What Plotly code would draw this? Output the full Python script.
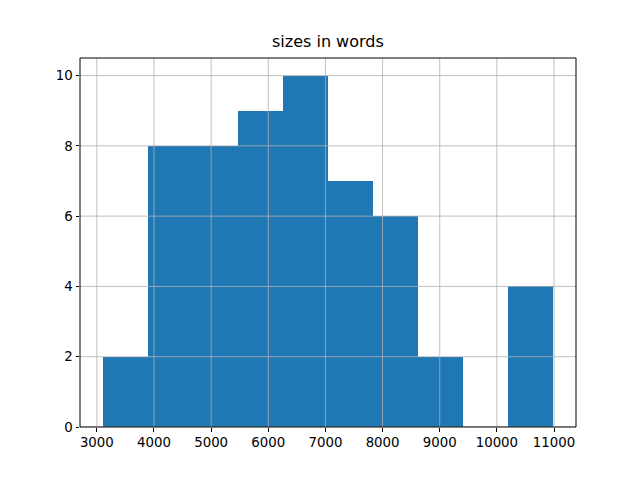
import plotly.graph_objects as go

# Histogram data (10 bins)
bin_edges = [3100, 3889, 4678, 5467, 6256, 7045, 7834, 8623, 9412, 10201, 10990]
counts = [2, 8, 8, 9, 10, 7, 6, 2, 0, 4]
x_ticks = [3000, 4000, 5000, 6000, 7000, 8000, 9000, 10000, 11000]
y_ticks = [0, 2, 4, 6, 8, 10]
title = "sizes in words"

centers = [(a + b) / 2 for a, b in zip(bin_edges[:-1], bin_edges[1:])]
widths = [b - a for a, b in zip(bin_edges[:-1], bin_edges[1:])]

span = bin_edges[-1] - bin_edges[0]
x_range = [bin_edges[0] - 0.05 * span, bin_edges[-1] + 0.05 * span]
y_range = [0, max(counts) * 1.05]

fig = go.Figure(go.Bar(x=centers, y=counts, width=widths,
                       marker=dict(color="#1f77b4", line=dict(width=0)),
                       hoverinfo="skip"))

shapes = []
for t in x_ticks:
    if x_range[0] <= t <= x_range[1]:
        shapes.append(dict(type="line", xref="x", yref="paper", x0=t, x1=t, y0=0, y1=1,
                           line=dict(color="#b0b0b0", width=0.8), layer="above"))
for t in y_ticks:
    shapes.append(dict(type="line", xref="paper", yref="y", x0=0, x1=1, y0=t, y1=t,
                       line=dict(color="#b0b0b0", width=0.8), layer="above"))
# frame
shapes.append(dict(type="rect", xref="paper", yref="paper", x0=0, x1=1, y0=0, y1=1,
                   line=dict(color="black", width=1), layer="above"))

font = dict(family="DejaVu Sans", size=13.33, color="black")
fig.update_layout(
    width=640, height=480,
    margin=dict(l=80, r=64, t=57.6, b=52.8),
    paper_bgcolor="white", plot_bgcolor="white",
    showlegend=False, bargap=0,
    font=font,
    shapes=shapes,
    annotations=[dict(text=title, xref="paper", yref="paper", x=0.5, y=1,
                      xanchor="center", yanchor="bottom", yshift=5, showarrow=False,
                      font=dict(family="DejaVu Sans", size=16, color="black"))],
    xaxis=dict(range=x_range, tickvals=x_ticks, ticktext=[str(t) for t in x_ticks],
               showgrid=False, zeroline=False, ticks="outside", ticklen=3.5,
               tickwidth=0.8, tickcolor="black", showline=False, tickfont=font),
    yaxis=dict(range=y_range, tickvals=y_ticks, ticktext=[str(t) for t in y_ticks],
               showgrid=False, zeroline=False, ticks="outside", ticklen=3.5,
               tickwidth=0.8, tickcolor="black", showline=False, tickfont=font),
)

fig.write_html("out.html")
